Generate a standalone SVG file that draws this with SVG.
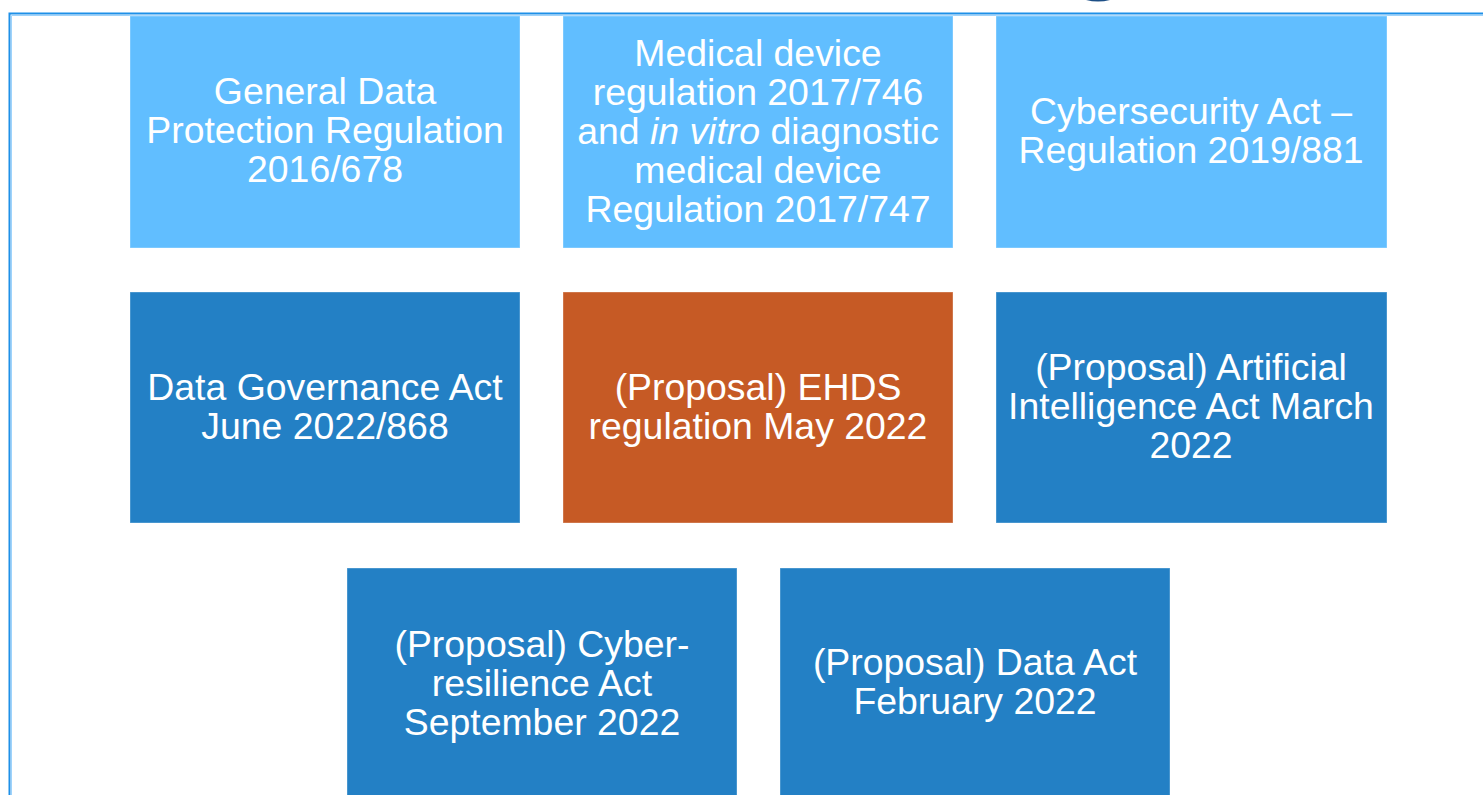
<svg xmlns="http://www.w3.org/2000/svg" width="1483" height="795" viewBox="0 0 1483 795">
  <style>
    .box { stroke: #ffffff; stroke-opacity: 0.35; stroke-width: 1; }
    .light { fill: #61beff; }
    .mid { fill: #2380c5; }
    .accent { fill: #c65a25; }
    .lbl { font-family: "Liberation Sans", Arial, sans-serif; font-size: 37.4px; fill: #ffffff; text-anchor: middle; }
    .it { font-style: italic; }
  </style>
  <rect width="1483" height="795" fill="#ffffff"/>
  <!-- frame -->
  <g id="frame" fill="none">
    <path d="M9.5 795 V13.5 H1483" stroke="#1e90e8" stroke-width="2"/>
    <path d="M11.5 795 V15.5 H1483" stroke="#9fd3fb" stroke-width="1"/>
    <path d="M1086 0 Q1098 3 1110 0 Z" fill="#1d4f86"/>
  </g>

  <g id="connectors"></g>

  <g id="gdpr">
    <rect class="box light" x="130" y="16" width="390" height="232"/>
    <text class="lbl"><tspan x="325" y="104">General Data</tspan><tspan x="325" y="143">Protection Regulation</tspan><tspan x="325" y="182">2016/678</tspan></text>
  </g>
  <g id="mdr">
    <rect class="box light" x="563" y="16" width="390" height="232"/>
    <text class="lbl"><tspan x="758" y="66">Medical device</tspan><tspan x="758" y="105">regulation 2017/746</tspan><tspan x="758" y="144">and <tspan class="it">in vitro</tspan> diagnostic</tspan><tspan x="758" y="183">medical device</tspan><tspan x="758" y="222">Regulation 2017/747</tspan></text>
  </g>
  <g id="csa">
    <rect class="box light" x="996" y="16" width="391" height="232"/>
    <text class="lbl"><tspan x="1191" y="124">Cybersecurity Act –</tspan><tspan x="1191" y="163">Regulation 2019/881</tspan></text>
  </g>

  <g id="dga">
    <rect class="box mid" x="130" y="292" width="390" height="231"/>
    <text class="lbl"><tspan x="325" y="400">Data Governance Act</tspan><tspan x="325" y="439">June 2022/868</tspan></text>
  </g>
  <g id="ehds">
    <rect class="box accent" x="563" y="292" width="390" height="231"/>
    <text class="lbl"><tspan x="758" y="400">(Proposal) EHDS</tspan><tspan x="758" y="439">regulation May 2022</tspan></text>
  </g>
  <g id="aia">
    <rect class="box mid" x="996" y="292" width="391" height="231"/>
    <text class="lbl"><tspan x="1191" y="380">(Proposal) Artificial</tspan><tspan x="1191" y="419">Intelligence Act March</tspan><tspan x="1191" y="458">2022</tspan></text>
  </g>

  <g id="cra">
    <rect class="box mid" x="347" y="568" width="390" height="232"/>
    <text class="lbl"><tspan x="542" y="657">(Proposal) Cyber-</tspan><tspan x="542" y="696">resilience Act</tspan><tspan x="542" y="735">September 2022</tspan></text>
  </g>
  <g id="da">
    <rect class="box mid" x="780" y="568" width="390" height="232"/>
    <text class="lbl"><tspan x="975" y="675">(Proposal) Data Act</tspan><tspan x="975" y="714">February 2022</tspan></text>
  </g>
</svg>
